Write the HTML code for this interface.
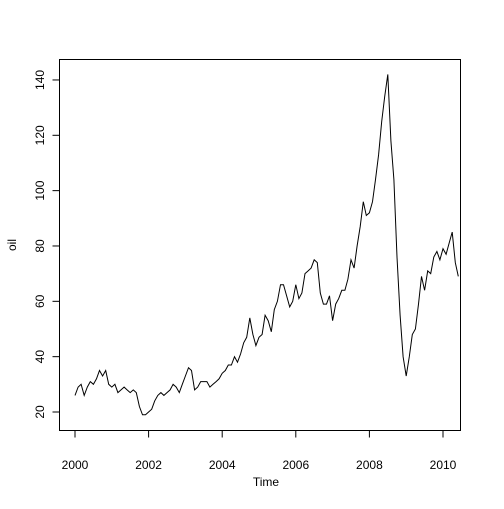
<!DOCTYPE html>
<html><head><meta charset="utf-8"><style>
body{margin:0;background:#fff}
svg text{font-family:"Liberation Sans",Arial,sans-serif;font-size:12px;fill:#000}
</style></head><body>
<svg id="chart" width="504" height="504">
<rect x="59.5" y="59.5" width="401" height="371" fill="none" stroke="#000"/>
<g id="axes"></g>
<path id="line" fill="none" stroke="#000" stroke-width="1"/>
<text x="266" y="486" text-anchor="middle">Time</text>
<text transform="translate(16,245) rotate(-90)" text-anchor="middle">oil</text>
</svg>
<script>
const startYear = 2000;
const stepYears = 1/12;
const oilValues = [
26,29,30,26,29,31,30,32,35,33,35,30,
29,30,27,28,29,28,27,28,27,22,19,19,
20,21,24,26,27,26,27,28,30,29,27,30,
33,36,35,28,29,31,31,31,29,30,31,32,
34,35,37,37,40,38,41,45,47,54,48,44,
47,48,55,53,49,57,60,66,66,62,58,60,
66,61,63,70,71,72,75,74,63,59,59,62,
53,59,61,64,64,68,75,72,80,87,96,91,
92,96,104,113,125,134,142,118,104,76,55,40,
33,40,48,50,59,69,64,71,70,76,78,75,
79,77,81,85,74,69];
const xTicks = [2000,2002,2004,2006,2008,2010];
const yTicks = [20,40,60,80,100,120,140];

const sx = t => 75 + (t-2000)*36.8;
const sy = v => 412 - (v-20)*2.767;
const ns = "http://www.w3.org/2000/svg";
const axes = document.getElementById('axes');
function mk(tag, attrs){const e=document.createElementNS(ns,tag);for(const k in attrs)e.setAttribute(k,attrs[k]);axes.appendChild(e);return e;}
mk('line',{x1:sx(xTicks[0]),x2:sx(xTicks[xTicks.length-1]),y1:430.5,y2:430.5,stroke:'#000'});
xTicks.forEach(t=>{
  const l=mk('line',{x1:sx(t),x2:sx(t),y1:430.5,y2:437.5,stroke:'#000'});
  
  
  const tx=mk('text',{x:sx(t),y:469,'text-anchor':'middle'});tx.textContent=t;
  
  
});
mk('line',{x1:59.5,x2:59.5,y1:sy(yTicks[0]),y2:sy(yTicks[yTicks.length-1]),stroke:'#000'});
yTicks.forEach(v=>{
  const l=mk('line',{x1:52.5,x2:59.5,y1:sy(v),y2:sy(v),stroke:'#000'});
  
  
  const tx=mk('text',{transform:`translate(44,${sy(v)}) rotate(-90)`,'text-anchor':'middle'});tx.textContent=v;
  
  
});
document.getElementById('line').setAttribute('d', oilValues.map((v,i)=>(i?'L':'M')+sx(startYear+i*stepYears).toFixed(1)+','+sy(v).toFixed(1)).join(''));
</script>
</body></html>
